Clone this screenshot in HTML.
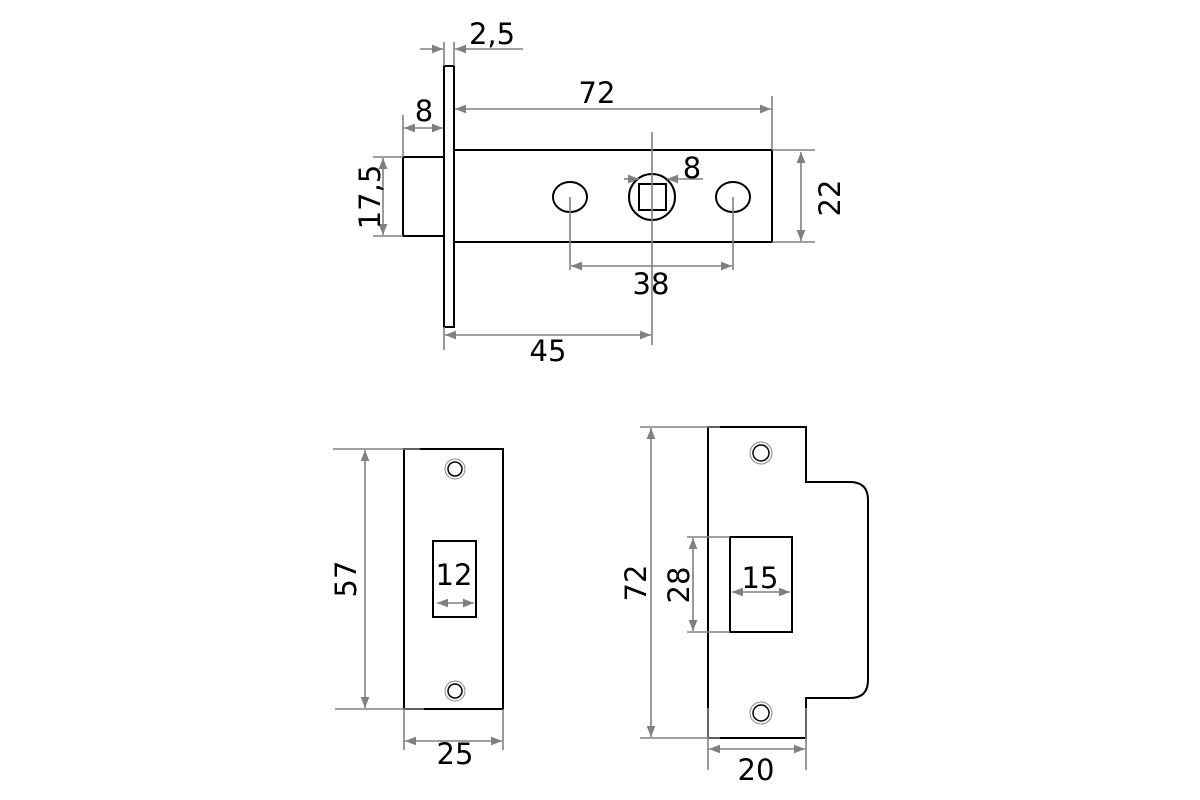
<!DOCTYPE html>
<html><head><style>body{margin:0;background:#fff}svg{display:block}</style></head><body>
<svg width="1200" height="800" viewBox="0 0 1200 800" xmlns="http://www.w3.org/2000/svg">
<defs>
<marker id="a" viewBox="0 0 10 10" refX="10" refY="5" markerWidth="7" markerHeight="7" orient="auto-start-reverse"><path d="M0,1 L10,5 L0,9 z" fill="#808080"/></marker>
</defs>
<g fill="none" stroke="#000" stroke-width="2">
<rect x="444" y="66" width="10" height="261"/>
<rect x="454" y="150" width="318" height="92"/>
<rect x="403" y="157" width="41" height="79"/>
<ellipse cx="570" cy="197" rx="17" ry="15"/>
<ellipse cx="733" cy="197" rx="17" ry="15"/>
<circle cx="652" cy="197" r="23"/>
<rect x="639" y="184" width="27" height="26"/>
<rect x="404" y="449" width="99" height="260"/>
<rect x="433" y="541" width="43" height="76"/>
<path d="M708,427 H806 V482 H850 Q868,482 868,500 V680 Q868,698 850,698 H806 V738 H708 Z"/>
<rect x="730" y="537" width="62" height="95"/>
</g>
<g fill="none" stroke="#000" stroke-width="1.5">
<circle cx="455" cy="469" r="7"/><circle cx="455" cy="691" r="7"/>
<circle cx="761" cy="453" r="8"/><circle cx="761" cy="713" r="8"/>
</g>
<g fill="none" stroke="#888" stroke-width="1">
<circle cx="455" cy="469" r="10"/><circle cx="455" cy="691" r="10"/>
<circle cx="761" cy="453" r="11"/><circle cx="761" cy="713" r="11"/>
</g>
<g stroke="#808080" stroke-width="1.6" fill="none">
<line x1="444" y1="42" x2="444" y2="66"/><line x1="454" y1="42" x2="454" y2="66"/>
<line x1="420" y1="49" x2="443" y2="49" marker-end="url(#a)"/>
<line x1="523" y1="49" x2="455" y2="49" marker-end="url(#a)"/>
<line x1="772" y1="96" x2="772" y2="150"/>
<line x1="455" y1="109" x2="771" y2="109" marker-start="url(#a)" marker-end="url(#a)"/>
<line x1="403" y1="115" x2="403" y2="157"/>
<line x1="404" y1="128" x2="443" y2="128" marker-start="url(#a)" marker-end="url(#a)"/>
<line x1="373" y1="157" x2="403" y2="157"/><line x1="373" y1="236" x2="403" y2="236"/>
<line x1="383" y1="158" x2="383" y2="235" marker-start="url(#a)" marker-end="url(#a)"/>
<line x1="772" y1="150" x2="815" y2="150"/><line x1="772" y1="242" x2="815" y2="242"/>
<line x1="801" y1="152" x2="801" y2="241" marker-start="url(#a)" marker-end="url(#a)"/>
<line x1="624" y1="179" x2="639" y2="179" marker-end="url(#a)"/>
<line x1="703" y1="179" x2="667" y2="179" marker-end="url(#a)"/>
<line x1="652" y1="132" x2="652" y2="345"/>
<line x1="570" y1="197" x2="570" y2="270"/><line x1="733" y1="197" x2="733" y2="270"/>
<line x1="571" y1="266" x2="732" y2="266" marker-start="url(#a)" marker-end="url(#a)"/>
<line x1="444" y1="327" x2="444" y2="350"/>
<line x1="445" y1="335" x2="651" y2="335" marker-start="url(#a)" marker-end="url(#a)"/>
<line x1="333" y1="449" x2="420" y2="449"/><line x1="335" y1="709" x2="424" y2="709"/>
<line x1="365" y1="450" x2="365" y2="708" marker-start="url(#a)" marker-end="url(#a)"/>
<line x1="437" y1="603" x2="474" y2="603" marker-start="url(#a)" marker-end="url(#a)"/>
<line x1="404" y1="709" x2="404" y2="750"/><line x1="503" y1="709" x2="503" y2="750"/>
<line x1="405" y1="741" x2="502" y2="741" marker-start="url(#a)" marker-end="url(#a)"/>
<line x1="640" y1="427" x2="720" y2="427"/><line x1="640" y1="738" x2="720" y2="738"/>
<line x1="651" y1="428" x2="651" y2="737" marker-start="url(#a)" marker-end="url(#a)"/>
<line x1="687" y1="537" x2="730" y2="537"/><line x1="687" y1="632" x2="730" y2="632"/>
<line x1="693" y1="538" x2="693" y2="631" marker-start="url(#a)" marker-end="url(#a)"/>
<line x1="732" y1="592" x2="790" y2="592" marker-start="url(#a)" marker-end="url(#a)"/>
<line x1="708" y1="708" x2="708" y2="770"/><line x1="806" y1="708" x2="806" y2="770"/>
<line x1="709" y1="749" x2="805" y2="749" marker-start="url(#a)" marker-end="url(#a)"/>
</g>
<g font-family="'DejaVu Sans','Liberation Sans',sans-serif" font-size="29" fill="#000" text-anchor="middle">
<text x="492" y="44">2,5</text>
<text x="597" y="103">72</text>
<text x="424" y="121">8</text>
<text x="692" y="178">8</text>
<text x="651" y="294">38</text>
<text x="548" y="361">45</text>
<text transform="translate(380,197) rotate(-90)">17,5</text>
<text transform="translate(840,198) rotate(-90)">22</text>
<text transform="translate(356,579) rotate(-90)">57</text>
<text x="454" y="585">12</text>
<text x="455" y="764">25</text>
<text transform="translate(646,583) rotate(-90)">72</text>
<text transform="translate(689,585) rotate(-90)">28</text>
<text x="760" y="588">15</text>
<text x="756" y="780">20</text>
</g>
</svg>
</body></html>
